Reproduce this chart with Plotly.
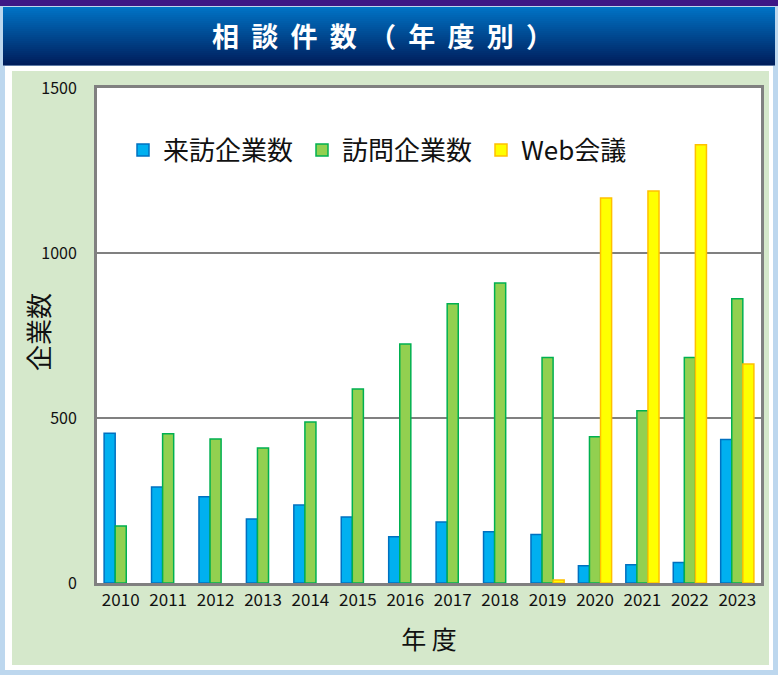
import plotly.graph_objects as go

years = ["2010", "2011", "2012", "2013", "2014", "2015", "2016",
         "2017", "2018", "2019", "2020", "2021", "2022", "2023"]
raihou = [454, 291, 261, 194, 236, 200, 140, 185, 155, 147, 52, 55, 62, 435]
houmon = [173, 452, 436, 409, 488, 588, 724, 846, 909, 683, 443, 522, 683, 861]
web = [None, None, None, None, None, None, None, None, None, 9, 1167, 1188, 1328, 664]
series_names = ["来訪企業数", "訪問企業数", "Web会議"]
yticks = [0, 500, 1000, 1500]

W, H = 778, 675
L, R, T, B = 97, 761, 88, 583


def px(x):
    return (x - L) / (R - L)


def py(y):
    return (B - y) / (B - T)


JP = "Noto Sans CJK JP, Noto Sans, sans-serif"

fig = go.Figure()
fig.add_trace(go.Bar(x=years, y=raihou, name=series_names[0],
                     marker=dict(color="#00b0f0", line=dict(color="#0070c0", width=1.5))))
fig.add_trace(go.Bar(x=years, y=houmon, name=series_names[1],
                     marker=dict(color="#92d050", line=dict(color="#00b050", width=1.5))))
fig.add_trace(go.Bar(x=years, y=web, name=series_names[2],
                     marker=dict(color="#ffff00", line=dict(color="#ffc000", width=1.5))))

shapes = []


def rect(x0, y0, x1, y1, color):
    shapes.append(dict(type="rect", xref="paper", yref="paper",
                       x0=px(x0), x1=px(x1), y0=py(y0), y1=py(y1),
                       fillcolor=color, line=dict(width=0), layer="below"))


# outer frame
rect(5, 66, 773, 670, "#ffffff")
rect(12, 71, 769, 665, "#d5e8cb")
rect(L, T, R, B, "#ffffff")
# top strip
rect(0, 0, W, 6, "#3e1786")
# title gradient bar
top_c = (0, 114, 196)
bot_c = (0, 30, 92)
y0, y1 = 7, 65
n = 29
for i in range(n):
    t = i / (n - 1)
    c = tuple(round(top_c[k] + (bot_c[k] - top_c[k]) * t) for k in range(3))
    ya = y0 + (y1 - y0) * i / n
    yb = y0 + (y1 - y0) * (i + 1) / n + 0.5
    rect(3, ya, 775, yb, "rgb(%d,%d,%d)" % c)

fig.update_layout(
    width=W, height=H,
    margin=dict(l=L, r=W - R, t=T, b=H - B, pad=0),
    paper_bgcolor="#bdd7ee",
    plot_bgcolor="rgba(0,0,0,0)",
    barmode="group", bargap=0.3, bargroupgap=0,
    shapes=shapes,
    font=dict(family=JP, color="#111111"),
    legend=dict(orientation="h", x=px(123), y=py(150), xanchor="left", yanchor="middle",
                font=dict(size=26, family=JP, color="#111111"),
                bgcolor="rgba(0,0,0,0)", itemwidth=30, traceorder="normal",
                entrywidth=134, entrywidthmode="pixels"),
    annotations=[
        dict(text="相  談  件  数  （  年  度  別  ）", xref="paper", yref="paper",
             x=px(382), y=py(36), xanchor="center", yanchor="middle", showarrow=False,
             font=dict(size=27, color="#ffffff", family=JP, weight="bold")),
        dict(text="企業数", xref="paper", yref="paper", textangle=-90,
             x=px(37), y=py(332), xanchor="center", yanchor="middle", showarrow=False,
             font=dict(size=26, color="#111111", family=JP)),
    ],
    xaxis=dict(type="category", showline=True, linecolor="#808080", linewidth=3, mirror=True,
               ticks="", tickfont=dict(size=17, family=JP, color="#111111"),
               title=dict(text="年 度", font=dict(size=25, family=JP, color="#111111"), standoff=22),
               showgrid=False),
    yaxis=dict(range=[0, 1500], tickvals=yticks, showline=True, linecolor="#808080", linewidth=3,
               mirror=True, gridcolor="#808080", gridwidth=2, zeroline=False, ticks="",
               ticklabelstandoff=14,
               tickfont=dict(size=16, family=JP, color="#111111")),
)

fig.write_html("out.html", config={"displayModeBar": False},
               post_script="document.body.style.margin='0';document.body.style.overflow='hidden';")
